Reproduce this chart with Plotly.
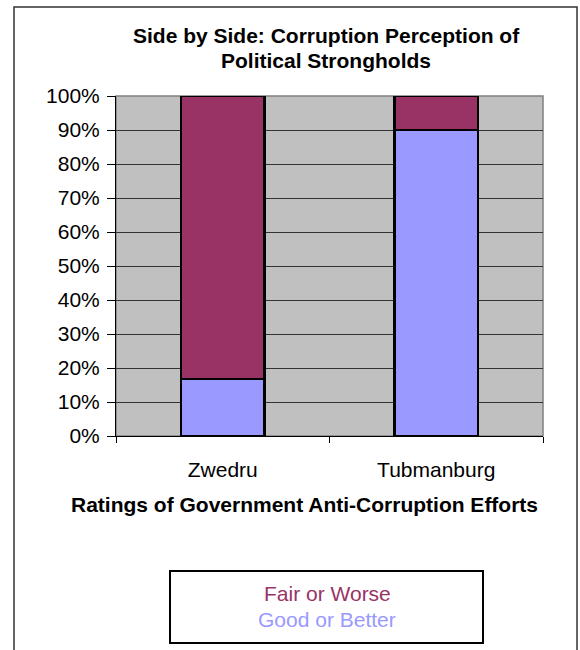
import plotly.graph_objects as go

categories = ["Zwedru", "Tubmanburg"]
good_or_better = [0.167, 0.90]
fair_or_worse = [0.833, 0.10]
series_names = ["Fair or Worse", "Good or Better"]
series_colors = ["#993366", "#9999FF"]
title_lines = ["Side by Side: Corruption Perception of", "Political Strongholds"]
x_title = "Ratings of Government Anti-Corruption Efforts"

FONT = "Liberation Sans, Arial, sans-serif"

fig = go.Figure()
fig.add_trace(go.Bar(x=categories, y=good_or_better, name=series_names[1],
                     marker=dict(color=series_colors[1], line=dict(color="black", width=2.5)),
                     width=0.39))
fig.add_trace(go.Bar(x=categories, y=fair_or_worse, name=series_names[0],
                     marker=dict(color=series_colors[0], line=dict(color="black", width=2.5)),
                     width=0.39))

W, H = 580, 650
PL, PR, PT, PB = 116, 543, 96, 436  # plot area in page pixels
L, R, T, B = PL, W - PR, PT, H - PB
pw, ph = W - L - R, H - T - B

def px2x(px):
    return (px - L) / pw

def py2y(py):
    return (H - B - py) / ph

fig.update_layout(
    width=W, height=H,
    margin=dict(l=L, r=R, t=T, b=B),
    paper_bgcolor="white",
    plot_bgcolor="#C0C0C0",
    barmode="stack",
    showlegend=False,
    font=dict(family=FONT, size=21, color="black"),
    xaxis=dict(type="category", categoryorder="array", categoryarray=categories,
               range=[-0.5, 1.5], showline=True, linecolor="black", linewidth=1,
               ticks="outside", tickson="boundaries", ticklen=6, tickcolor="black",
               showgrid=False, ticklabelstandoff=15,
               tickfont=dict(family=FONT, size=21, color="black")),
    yaxis=dict(range=[0, 1], dtick=0.1, tickformat=".0%", showgrid=True,
               gridcolor="#333333", gridwidth=1, showline=True, linecolor="black",
               linewidth=1, ticks="outside", ticklen=8, tickcolor="black",
               zeroline=False, ticklabelstandoff=3,
               tickfont=dict(family=FONT, size=21, color="black")),
)

shapes = [
    dict(type="rect", xref="paper", yref="paper", x0=0, x1=1, y0=0, y1=1,
         line=dict(color="#808080", width=1.5), layer="below"),
    dict(type="rect", xref="paper", yref="paper", x0=px2x(14), x1=px2x(577),
         y0=py2y(670), y1=py2y(7), line=dict(color="#333333", width=1.5)),
    dict(type="rect", xref="paper", yref="paper", x0=px2x(170), x1=px2x(483),
         y0=py2y(643), y1=py2y(571), line=dict(color="black", width=2),
         fillcolor="white"),
]
fig.update_layout(shapes=shapes)

def note(text, xpx, ypx, color="black"):
    return dict(text=text, xref="paper", yref="paper", x=px2x(xpx), y=py2y(ypx),
                xanchor="center", yanchor="middle", showarrow=False,
                font=dict(family=FONT, size=21, color=color))

annotations = [
    note("<b>" + title_lines[0] + "</b>", 326, 36),
    note("<b>" + title_lines[1] + "</b>", 326, 61),
    note("<b>" + x_title + "</b>", 304.5, 504),
    note(series_names[0], 327, 593, series_colors[0]),
    note(series_names[1], 327, 619, series_colors[1]),
]
fig.update_layout(annotations=annotations)

fig.write_html("out.html",
               config={"displayModeBar": False},
               post_script="document.body.style.margin='0';"
                           "document.body.style.overflow='hidden';")
